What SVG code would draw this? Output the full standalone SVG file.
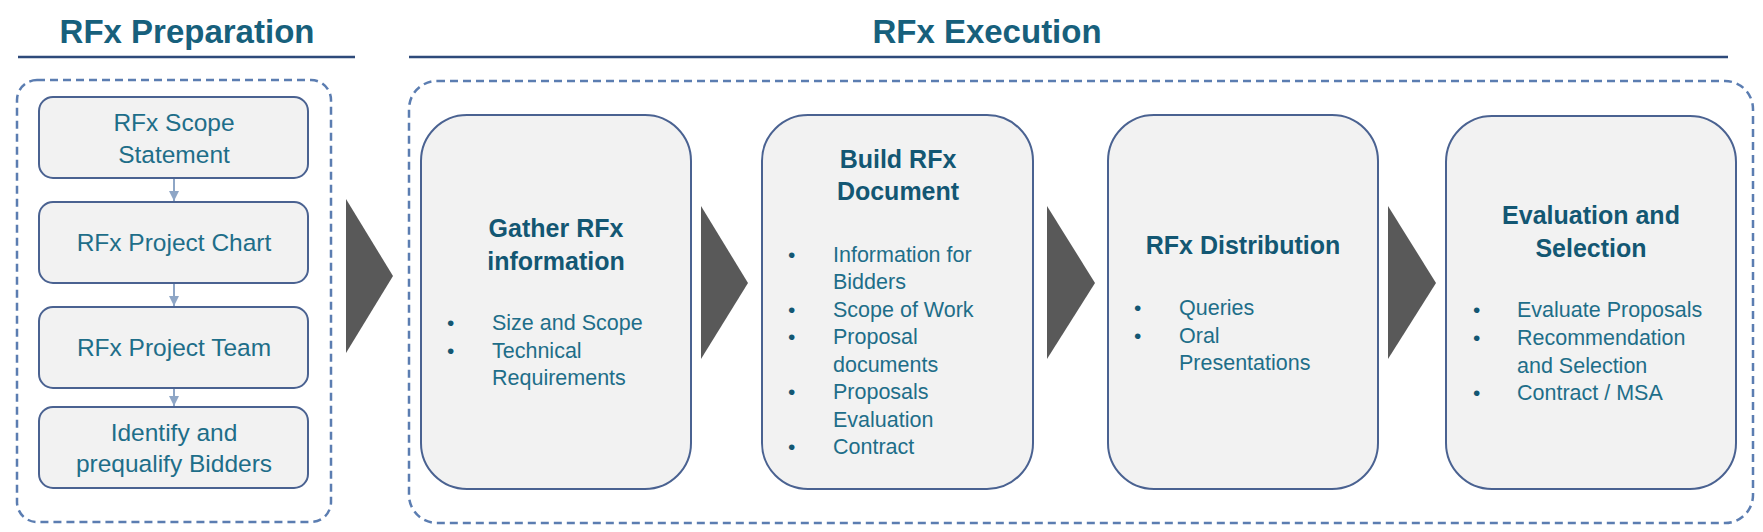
<svg xmlns="http://www.w3.org/2000/svg" width="1763" height="532" viewBox="0 0 1763 532">
<defs>
<style>
.hdr{font-family:"Liberation Sans",Arial,sans-serif;font-weight:bold;font-size:33px;fill:#17607C;text-anchor:middle}
.rule{stroke:#2E4A7A;stroke-width:2.5}
.dash{fill:none;stroke:#5B7DB1;stroke-width:2.5;stroke-dasharray:8 5}
.sbox{fill:#F2F2F2;stroke:#4A6291;stroke-width:2}
.bbox{fill:#F2F2F2;stroke:#4A6291;stroke-width:2}
.stxt{font-family:"Liberation Sans",Arial,sans-serif;font-size:24.5px;fill:#1E6E89;text-anchor:middle}
.ttl{font-family:"Liberation Sans",Arial,sans-serif;font-weight:bold;font-size:25px;fill:#135773;text-anchor:middle}
.btxt{font-family:"Liberation Sans",Arial,sans-serif;font-size:21.5px;fill:#1E6E89}
.bul{font-family:"Liberation Sans",Arial,sans-serif;font-size:21px;fill:#135773}
.big{fill:#595959}
.conn{stroke:#8EA6C6;stroke-width:2;fill:none}
</style>
<marker id="ah" viewBox="0 0 10 10" refX="10" refY="5" markerWidth="5" markerHeight="5" orient="auto" markerUnits="strokeWidth">
<path d="M0,0 L10,5 L0,10 z" fill="#8EA6C6"/>
</marker>
</defs>

<g id="headers">
<text class="hdr" x="187" y="43">RFx Preparation</text>
<line class="rule" x1="18" y1="57" x2="355" y2="57"/>
<text class="hdr" x="987" y="43">RFx Execution</text>
<line class="rule" x1="409" y1="57" x2="1728" y2="57"/>
</g>

<g id="containers">
<rect class="dash" x="17" y="80" width="314" height="442" rx="20"/>
<rect class="dash" x="409" y="81" width="1344" height="442" rx="28"/>
</g>

<g id="connectors">
<line class="conn" x1="174" y1="179" x2="174" y2="201" marker-end="url(#ah)"/>
<line class="conn" x1="174" y1="284" x2="174" y2="306" marker-end="url(#ah)"/>
<line class="conn" x1="174" y1="389" x2="174" y2="406" marker-end="url(#ah)"/>
<polygon class="big" points="346,199 393,276 346,353"/>
<polygon class="big" points="701,206 748,283 701,359"/>
<polygon class="big" points="1047,206 1095,283 1047,359"/>
<polygon class="big" points="1388,206 1436,283 1388,359"/>
</g>

<g id="prep1">
<rect class="sbox" x="39" y="97" width="269" height="81" rx="14"/>
<text class="stxt" x="174" y="131">RFx Scope</text>
<text class="stxt" x="174" y="163">Statement</text>
</g>
<g id="prep2">
<rect class="sbox" x="39" y="202" width="269" height="81" rx="14"/>
<text class="stxt" x="174" y="251">RFx Project Chart</text>
</g>
<g id="prep3">
<rect class="sbox" x="39" y="307" width="269" height="81" rx="14"/>
<text class="stxt" x="174" y="356">RFx Project Team</text>
</g>
<g id="prep4">
<rect class="sbox" x="39" y="407" width="269" height="81" rx="14"/>
<text class="stxt" x="174" y="441">Identify and</text>
<text class="stxt" x="174" y="472">prequalify Bidders</text>
</g>

<g id="gather">
<rect class="bbox" x="421" y="115" width="270" height="374" rx="46"/>
<text class="ttl" x="556" y="237">Gather RFx</text>
<text class="ttl" x="556" y="270">information</text>
<text class="bul" x="447" y="330">•</text>
<text class="bul" x="447" y="358">•</text>
<text class="btxt" x="492" y="330">Size and Scope</text>
<text class="btxt" x="492" y="358">Technical</text>
<text class="btxt" x="492" y="385">Requirements</text>
</g>

<g id="build">
<rect class="bbox" x="762" y="115" width="271" height="374" rx="46"/>
<text class="ttl" x="898" y="168">Build RFx</text>
<text class="ttl" x="898" y="200">Document</text>
<text class="bul" x="788" y="262">•</text>
<text class="bul" x="788" y="317">•</text>
<text class="bul" x="788" y="344">•</text>
<text class="bul" x="788" y="399">•</text>
<text class="bul" x="788" y="454">•</text>
<text class="btxt" x="833" y="262">Information for</text>
<text class="btxt" x="833" y="289">Bidders</text>
<text class="btxt" x="833" y="317">Scope of Work</text>
<text class="btxt" x="833" y="344">Proposal</text>
<text class="btxt" x="833" y="372">documents</text>
<text class="btxt" x="833" y="399">Proposals</text>
<text class="btxt" x="833" y="427">Evaluation</text>
<text class="btxt" x="833" y="454">Contract</text>
</g>

<g id="distribution">
<rect class="bbox" x="1108" y="115" width="270" height="374" rx="46"/>
<text class="ttl" x="1243" y="254">RFx Distribution</text>
<text class="bul" x="1134" y="315">•</text>
<text class="bul" x="1134" y="343">•</text>
<text class="btxt" x="1179" y="315">Queries</text>
<text class="btxt" x="1179" y="343">Oral</text>
<text class="btxt" x="1179" y="370">Presentations</text>
</g>

<g id="evaluation">
<rect class="bbox" x="1446" y="116" width="290" height="373" rx="46"/>
<text class="ttl" x="1591" y="224">Evaluation and</text>
<text class="ttl" x="1591" y="257">Selection</text>
<text class="bul" x="1473" y="317">•</text>
<text class="bul" x="1473" y="345">•</text>
<text class="bul" x="1473" y="400">•</text>
<text class="btxt" x="1517" y="317">Evaluate Proposals</text>
<text class="btxt" x="1517" y="345">Recommendation</text>
<text class="btxt" x="1517" y="373">and Selection</text>
<text class="btxt" x="1517" y="400">Contract / MSA</text>
</g>
</svg>
